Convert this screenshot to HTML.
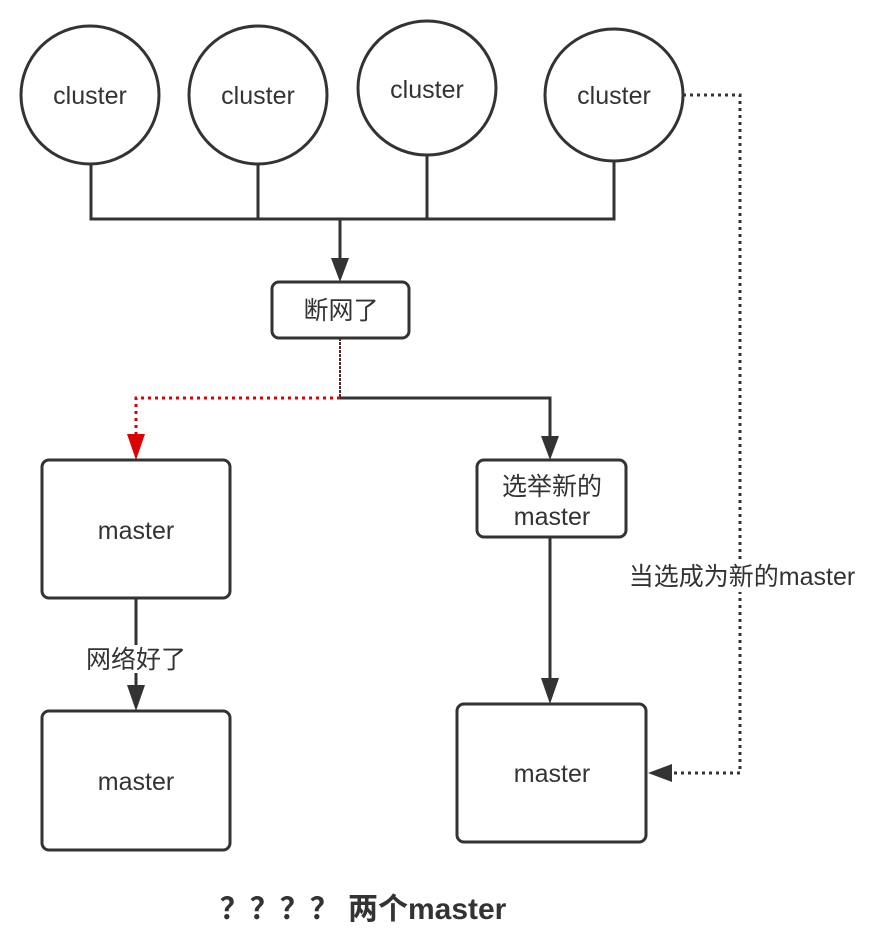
<!DOCTYPE html>
<html><head><meta charset="utf-8"><style>
body{margin:0;background:#fff}
text{font-family:"Liberation Sans","Noto Sans CJK SC",sans-serif;fill:#333}
</style></head><body>
<svg width="876" height="935" viewBox="0 0 876 935" xmlns="http://www.w3.org/2000/svg">
<g stroke="#333" stroke-width="3" fill="#fff">
<ellipse cx="90" cy="95" rx="69" ry="69"/>
<ellipse cx="258" cy="95" rx="69" ry="69"/>
<ellipse cx="427" cy="88" rx="69" ry="67"/>
<ellipse cx="614" cy="95" rx="69" ry="66"/>
</g>
<g stroke="#333" stroke-width="3" fill="none">
<path d="M91 164V219H614V161M258 164V219M427 155V219"/>
<path d="M340 219V262"/>
<path d="M340 398H550V440"/>
<path d="M136 598V690"/>
<path d="M550 537V684"/>
</g>
<g fill="#333">
<path d="M331 258h18l-9 24z"/>
<path d="M541 436h18l-9 24z"/>
<path d="M127 685h18l-9 26z"/>
<path d="M541 678h18l-9 26z"/>
<path d="M648 773l24-9v18z"/>
</g>
<path d="M340 338V398" stroke="#5a2a2a" stroke-width="2" stroke-dasharray="3 1"/>
<path d="M340 398H136V436" stroke="#d00" stroke-width="3" fill="none" stroke-dasharray="3 4"/>
<path d="M127 434h18l-9 26z" fill="#d00"/>
<path d="M683 95H740V773H672" stroke="#333" stroke-width="3" fill="none" stroke-dasharray="3 4"/>
<g stroke="#333" stroke-width="3" fill="#fff">
<rect x="272" y="282" width="137" height="56" rx="7"/>
<rect x="42" y="460" width="188" height="138" rx="7"/>
<rect x="42" y="711" width="188" height="139" rx="7"/>
<rect x="477" y="460" width="149" height="77" rx="7"/>
<rect x="457" y="704" width="189" height="138" rx="7"/>
</g>
<rect x="84" y="645" width="104" height="28" fill="#fff"/>
<rect x="622" y="562" width="240" height="30" fill="#fff"/>
<g font-size="25" text-anchor="middle">
<text x="90" y="104">cluster</text>
<text x="258" y="104">cluster</text>
<text x="427" y="98">cluster</text>
<text x="614" y="104">cluster</text>
<text x="341" y="319">断网了</text>
<text x="136" y="539">master</text>
<text x="136" y="790">master</text>
<text x="552" y="782">master</text>
<text x="552" y="495">选举新的</text>
<text x="552" y="525">master</text>
<text x="136" y="668">网络好了</text>
<text x="742" y="585">当选成为新的master</text>
<text x="363" y="919" font-size="30" font-weight="bold">？？？？ 两个master</text>
</g>
</svg>
</body></html>
